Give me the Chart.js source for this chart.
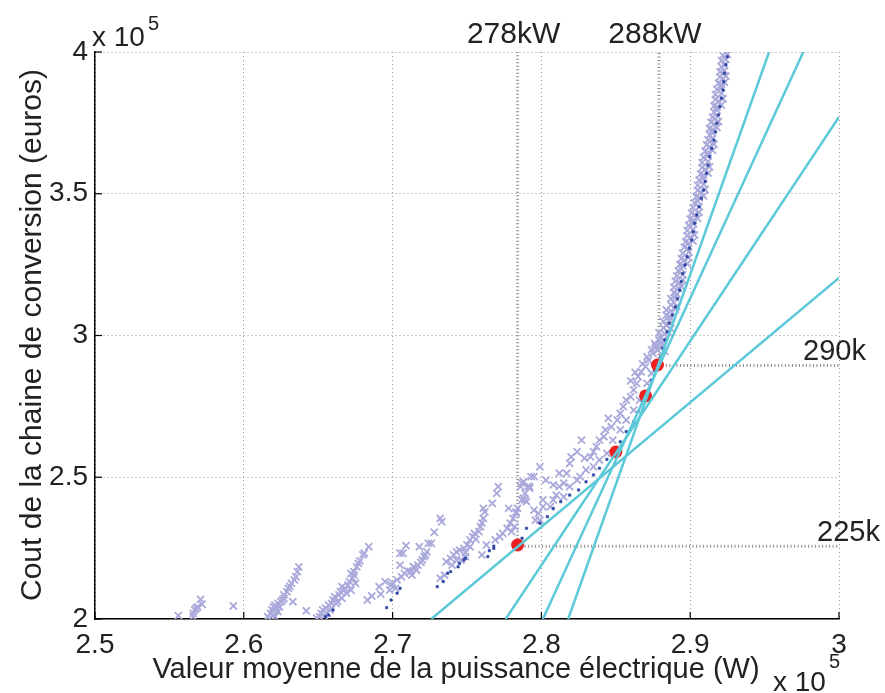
<!DOCTYPE html>
<html>
<head>
<meta charset="utf-8">
<script src="https://cdn.jsdelivr.net/npm/chart.js@4.4.1/dist/chart.umd.min.js"></script>
<style>
  html, body { margin: 0; padding: 0; background: #fff; }
  #wrap { width: 885px; height: 693px; }
</style>
</head>
<body>
<div id="wrap"><canvas id="paretoChart" width="885" height="693"></canvas></div>
<script>
// Axes (valeurs en x 10^5)
const xTicks = [2.5, 2.6, 2.7, 2.8, 2.9, 3.0];
const xTickLabels = ['2.5', '2.6', '2.7', '2.8', '2.9', '3'];
const yTicks = [2.0, 2.5, 3.0, 3.5, 4.0];
const yTickLabels = ['2', '2.5', '3', '3.5', '4'];

// Toutes les solutions evaluees (x = puissance, y = cout)
const allSolutions = [
  [2.556,2.012],[2.566,2.008],[2.566,2.020],[2.567,2.032],[2.568,2.038],[2.569,2.043],[2.571,2.069],[2.572,2.052],[2.593,2.046],
  [2.637,2.184],[2.636,2.167],[2.635,2.149],[2.632,2.126],[2.630,2.108],[2.629,2.096],[2.627,2.085],[2.627,2.073],[2.625,2.061],
  [2.623,2.055],[2.621,2.049],[2.620,2.043],[2.622,2.038],[2.624,2.043],[2.619,2.032],[2.618,2.020],[2.620,2.014],[2.616,2.008],
  [2.621,2.008],[2.633,2.061],[2.642,2.029],[2.617,2.003],[2.623,2.026],[2.626,2.067],[2.631,2.115],[2.634,2.138],
  [2.684,2.255],[2.680,2.226],[2.681,2.232],[2.677,2.196],[2.676,2.184],[2.674,2.167],[2.674,2.155],[2.673,2.144],[2.671,2.132],
  [2.670,2.120],[2.668,2.108],[2.666,2.114],[2.665,2.096],[2.664,2.085],[2.661,2.079],[2.660,2.067],[2.659,2.055],[2.657,2.049],
  [2.655,2.038],[2.653,2.032],[2.652,2.020],[2.651,2.008],[2.656,2.020],[2.658,2.032],[2.662,2.055],[2.666,2.073],[2.669,2.091],
  [2.672,2.102],[2.675,2.126],[2.683,2.067],[2.686,2.081],[2.692,2.088],[2.691,2.114],[2.649,2.003],[2.654,2.012],[2.663,2.062],
  [2.667,2.100],[2.678,2.205],[2.672,2.160],
  [2.695,2.132],[2.699,2.120],[2.703,2.138],[2.706,2.149],[2.708,2.161],[2.712,2.167],[2.715,2.179],[2.717,2.190],[2.720,2.208],
  [2.722,2.226],[2.723,2.237],[2.724,2.267],[2.726,2.267],[2.718,2.255],[2.705,2.232],[2.707,2.232],[2.709,2.259],[2.705,2.190],
  [2.698,2.102],[2.702,2.108],[2.713,2.155],[2.716,2.173],[2.721,2.220],[2.700,2.127],[2.710,2.170],[2.714,2.185],[2.719,2.200],
  [2.732,2.355],[2.733,2.343],[2.728,2.306],[2.736,2.202],[2.739,2.214],[2.741,2.226],[2.743,2.237],[2.745,2.243],[2.748,2.249],
  [2.750,2.261],[2.752,2.279],[2.754,2.290],[2.755,2.302],[2.758,2.308],[2.759,2.326],[2.760,2.338],[2.761,2.355],[2.762,2.378],
  [2.761,2.390],[2.767,2.408],[2.771,2.467],[2.770,2.443],[2.763,2.261],[2.760,2.226],[2.752,2.255],[2.749,2.220],[2.746,2.208],
  [2.743,2.208],[2.740,2.190],[2.732,2.144],[2.735,2.155],[2.749,2.234],[2.756,2.281],
  [2.769,2.279],[2.772,2.290],[2.774,2.302],[2.777,2.320],[2.779,2.338],[2.781,2.355],[2.783,2.373],[2.784,2.390],[2.787,2.420],
  [2.788,2.426],[2.790,2.414],[2.789,2.443],[2.787,2.479],[2.791,2.467],[2.792,2.461],[2.793,2.502],[2.778,2.390],[2.783,2.378],
  [2.782,2.326],[2.780,2.308],
  [2.786,2.467],[2.788,2.484],[2.792,2.467],[2.789,2.420],[2.795,2.384],[2.796,2.349],[2.798,2.373],[2.799,2.537],[2.795,2.502],
  [2.801,2.420],[2.803,2.490],[2.806,2.396],[2.808,2.420],[2.810,2.437],[2.812,2.467],[2.815,2.479],[2.817,2.514],[2.819,2.549],
  [2.820,2.572],[2.824,2.590],[2.827,2.631],[2.829,2.567],[2.833,2.572],[2.835,2.590],[2.837,2.608],[2.839,2.631],[2.842,2.643],
  [2.843,2.667],[2.845,2.708],[2.847,2.678],[2.851,2.702],[2.853,2.725],[2.855,2.749],[2.857,2.772],[2.860,2.784],[2.862,2.808],
  [2.864,2.831],[2.865,2.855],[2.867,2.872],[2.870,2.890],[2.872,2.913],[2.875,2.937],[2.877,2.960],[2.879,2.984],[2.830,2.526],
  [2.835,2.537],[2.839,2.561],[2.844,2.584],[2.848,2.631],[2.853,2.667],[2.857,2.702],[2.862,2.737],[2.866,2.772],[2.871,2.831],
  [2.874,2.867],[2.815,2.431],[2.819,2.467],[2.824,2.490],[2.826,2.502],[2.812,2.514],[2.808,2.473],[2.801,2.396],[2.799,2.349],
  [2.868,2.900],[2.871,2.925],[2.874,2.950],[2.876,2.972],[2.863,2.870],[2.860,2.840],
  [2.878,2.948],[2.880,2.957],[2.883,2.944],[2.880,2.993],[2.882,2.985],[2.882,3.027],[2.884,3.036],[2.887,3.024],[2.884,3.072],
  [2.886,3.066],[2.887,3.108],[2.889,3.116],[2.891,3.104],[2.889,3.151],[2.891,3.146],[2.890,3.192],[2.893,3.186],[2.895,3.196],
  [2.892,3.228],[2.894,3.235],[2.894,3.271],[2.896,3.266],[2.899,3.275],[2.896,3.312],[2.898,3.306],[2.898,3.352],[2.900,3.346],
  [2.903,3.355],[2.899,3.388],[2.902,3.394],[2.901,3.432],[2.903,3.426],[2.906,3.435],[2.903,3.468],[2.905,3.474],[2.905,3.512],
  [2.907,3.506],[2.910,3.515],[2.906,3.548],[2.909,3.554],[2.908,3.592],[2.910,3.586],[2.913,3.595],[2.909,3.628],[2.912,3.634],
  [2.911,3.672],[2.913,3.666],[2.916,3.675],[2.913,3.708],[2.915,3.714],[2.914,3.752],[2.916,3.746],[2.919,3.755],[2.916,3.788],
  [2.918,3.794],[2.917,3.832],[2.919,3.826],[2.922,3.835],[2.918,3.868],[2.921,3.874],[2.920,3.912],[2.922,3.906],[2.924,3.915],
  [2.921,3.948],[2.923,3.954],[2.922,3.988],[2.925,3.992],
  [2.877,2.965],[2.881,2.968],[2.879,3.010],[2.883,3.006],[2.885,3.013],[2.882,3.050],[2.886,3.054],[2.884,3.090],[2.887,3.086],
  [2.890,3.093],[2.887,3.130],[2.890,3.134],[2.889,3.170],[2.892,3.166],[2.894,3.173],[2.891,3.210],[2.895,3.214],[2.893,3.250],
  [2.895,3.246],[2.898,3.253],[2.895,3.290],[2.899,3.294],[2.897,3.330],[2.899,3.326],[2.902,3.333],[2.898,3.370],[2.902,3.374],
  [2.900,3.410],[2.902,3.406],[2.905,3.413],[2.902,3.450],[2.906,3.454],[2.904,3.490],[2.906,3.486],[2.909,3.493],[2.905,3.530],
  [2.909,3.534],[2.907,3.570],[2.909,3.566],[2.912,3.573],[2.908,3.610],[2.912,3.614],[2.910,3.650],[2.912,3.646],[2.915,3.653],
  [2.912,3.690],[2.915,3.694],[2.913,3.730],[2.915,3.726],[2.918,3.733],[2.915,3.770],[2.918,3.774],[2.916,3.810],[2.918,3.806],
  [2.921,3.813],[2.917,3.850],[2.921,3.854],[2.919,3.890],[2.921,3.886],[2.923,3.893],[2.920,3.930],[2.923,3.934],[2.921,3.970],
  [2.924,3.974]
];

// Front de Pareto
const paretoFront = [
  [2.655,2.008],[2.657,2.014],[2.660,2.032],
  [2.696,2.040],[2.699,2.067],[2.703,2.091],[2.705,2.108],
  [2.730,2.114],[2.734,2.132],[2.737,2.161],[2.739,2.167],[2.744,2.184],[2.745,2.196],[2.748,2.208],[2.749,2.214],
  [2.764,2.220],[2.765,2.241],[2.768,2.249],[2.768,2.257],
  [2.787,2.285],[2.790,2.320],[2.799,2.338],[2.804,2.361],[2.808,2.390],[2.813,2.414],[2.819,2.437],[2.825,2.455],
  [2.830,2.484],[2.835,2.508],[2.839,2.532],[2.844,2.563],[2.848,2.590],[2.853,2.625],[2.857,2.661],[2.862,2.696],
  [2.865,2.731],[2.868,2.772],[2.872,2.808],[2.874,2.843],[2.876,2.878],[2.879,2.913],
  [2.880,2.925],[2.8815,2.955],[2.883,2.984],[2.8845,3.013],[2.886,3.043],[2.888,3.072],[2.890,3.101],[2.8915,3.130],
  [2.893,3.160],[2.894,3.190],[2.895,3.219],[2.8965,3.249],[2.898,3.278],[2.8995,3.308],[2.901,3.337],[2.902,3.366],
  [2.903,3.396],[2.9045,3.425],[2.906,3.454],[2.9075,3.484],[2.909,3.513],[2.910,3.543],[2.911,3.572],[2.912,3.601],
  [2.913,3.631],[2.9145,3.660],[2.916,3.689],[2.917,3.718],[2.918,3.748],[2.919,3.778],[2.920,3.807],[2.921,3.837],
  [2.922,3.866],[2.9225,3.895],[2.923,3.925],[2.924,3.955],[2.925,3.983]
];

// Points choisis et tangentes
const chosenPoints = [[2.784, 2.261], [2.850, 2.589], [2.870, 2.787], [2.878, 2.896]];
const tangents = [
  [[2.726, 2.0], [3.0, 3.203]],
  [[2.776, 2.0], [3.0, 3.771]],
  [[2.801, 2.0], [2.976, 4.0]],
  [[2.818, 2.0], [2.953, 4.0]]
];

// Reperes 278kW / 288kW
const markX = [2.784, 2.879];
const markY = [2.257, 2.894];
const markXLabels = ['278kW', '288kW'];
const markYLabels = ['225k', '290k'];

const FONT = '"Liberation Sans", Arial, Helvetica, sans-serif';
const toXY = arr => arr.map(p => ({ x: p[0], y: p[1] }));

const datasets = [];
tangents.forEach(t => {
    datasets.push({
        data: toXY(t), showLine: true, pointRadius: 0,
        borderColor: '#5cc9d8', borderWidth: 2.5, order: 0
    });
});
datasets.push({
    data: toXY(chosenPoints), pointStyle: 'circle', pointRadius: 6.5,
    backgroundColor: '#ee1f1f', borderColor: '#ee1f1f', borderWidth: 0, order: 1
});
datasets.push({
    data: toXY(paretoFront), pointStyle: 'rect', pointRadius: 1.7,
    backgroundColor: '#2b43a3', borderColor: '#2b43a3', borderWidth: 0.5, order: 2
});
datasets.push({
    data: toXY(allSolutions), pointStyle: 'crossRot', pointRadius: 5,
    borderColor: '#a9a9db', borderWidth: 1.8, order: 3
});
// lignes de repere en pointilles
markX.forEach((mx, i) => {
    datasets.push({
        data: [{ x: mx, y: markY[i] }, { x: mx, y: 4.0 }], showLine: true, pointRadius: 0,
        borderColor: '#8a8a8a', borderWidth: 3, borderDash: [1, 2.5], order: 4
    });
    datasets.push({
        data: [{ x: mx, y: markY[i] }, { x: 3.0, y: markY[i] }], showLine: true, pointRadius: 0,
        borderColor: '#8a8a8a', borderWidth: 3, borderDash: [1, 2.5], order: 4
    });
});

// textes et graduations interieures facon MATLAB
const matlabDecor = {
    id: 'matlabDecor',
    afterDraw(chart) {
        const ctx = chart.ctx;
        const xs = chart.scales.x, ys = chart.scales.y;
        const area = chart.chartArea;
        ctx.save();
        ctx.strokeStyle = '#000';
        ctx.lineWidth = 1.2;
        xTicks.forEach(v => {
            const px = xs.getPixelForValue(v);
            ctx.beginPath(); ctx.moveTo(px, area.bottom); ctx.lineTo(px, area.bottom - 7); ctx.stroke();
        });
        yTicks.forEach(v => {
            const py = ys.getPixelForValue(v);
            ctx.beginPath(); ctx.moveTo(area.left, py); ctx.lineTo(area.left + 7, py); ctx.stroke();
        });

        ctx.fillStyle = '#222';
        ctx.textBaseline = 'alphabetic';
        ctx.font = '28px ' + FONT;
        ctx.textAlign = 'left';
        ctx.fillText('x 10', 92, 46);
        ctx.fillText('x 10', 773, 691);
        ctx.font = '20px ' + FONT;
        ctx.fillText('5', 148, 30);
        ctx.fillText('5', 829, 668);

        ctx.font = '30px ' + FONT;
        ctx.textAlign = 'center';
        markX.forEach((mx, i) => {
            ctx.fillText(markXLabels[i], xs.getPixelForValue(mx) - 4, 43);
        });
        ctx.font = '29px ' + FONT;
        ctx.textAlign = 'left';
        ctx.fillText(markYLabels[1], 803, ys.getPixelForValue(markY[1]) - 6);
        ctx.fillText(markYLabels[0], 817, ys.getPixelForValue(markY[0]) - 5);

        ctx.textAlign = 'center';
        ctx.fillText('Valeur moyenne de la puissance électrique (W)', 456, 678);
        ctx.font = '30px ' + FONT;
        ctx.translate(41, 335);
        ctx.rotate(-Math.PI / 2);
        ctx.fillText('Cout de la chaine de conversion (euros)', 0, 0);
        ctx.restore();
    }
};

new Chart(document.getElementById('paretoChart'), {
    type: 'scatter',
    data: { datasets: datasets },
    plugins: [matlabDecor],
    options: {
        responsive: false,
        animation: false,
        devicePixelRatio: 1,
        layout: { padding: { top: 52, right: 46, left: 0, bottom: 0 } },
        plugins: {
            legend: { display: false },
            tooltip: { enabled: false }
        },
        scales: {
            x: {
                type: 'linear', min: 2.5, max: 3.0,
                afterBuildTicks: s => { s.ticks = xTicks.map(v => ({ value: v })); },
                afterFit: s => { s.height = 74; },
                ticks: {
                    callback: (v, i) => xTickLabels[i],
                    font: { size: 28, family: FONT }, color: '#222', padding: 9, maxRotation: 0
                },
                grid: { color: '#969696', lineWidth: 1, drawTicks: false },
                border: { display: true, color: '#000', width: 1.5, dash: [1, 3] }
            },
            y: {
                type: 'linear', min: 2.0, max: 4.0,
                afterBuildTicks: s => { s.ticks = yTicks.map(v => ({ value: v })); },
                afterFit: s => { s.width = 95; },
                ticks: {
                    callback: (v, i) => yTickLabels[i],
                    font: { size: 28, family: FONT }, color: '#222', padding: 7
                },
                grid: { color: '#969696', lineWidth: 1, drawTicks: false },
                border: { display: true, color: '#000', width: 1.5, dash: [1, 3] }
            }
        }
    }
});
</script>
</body>
</html>
